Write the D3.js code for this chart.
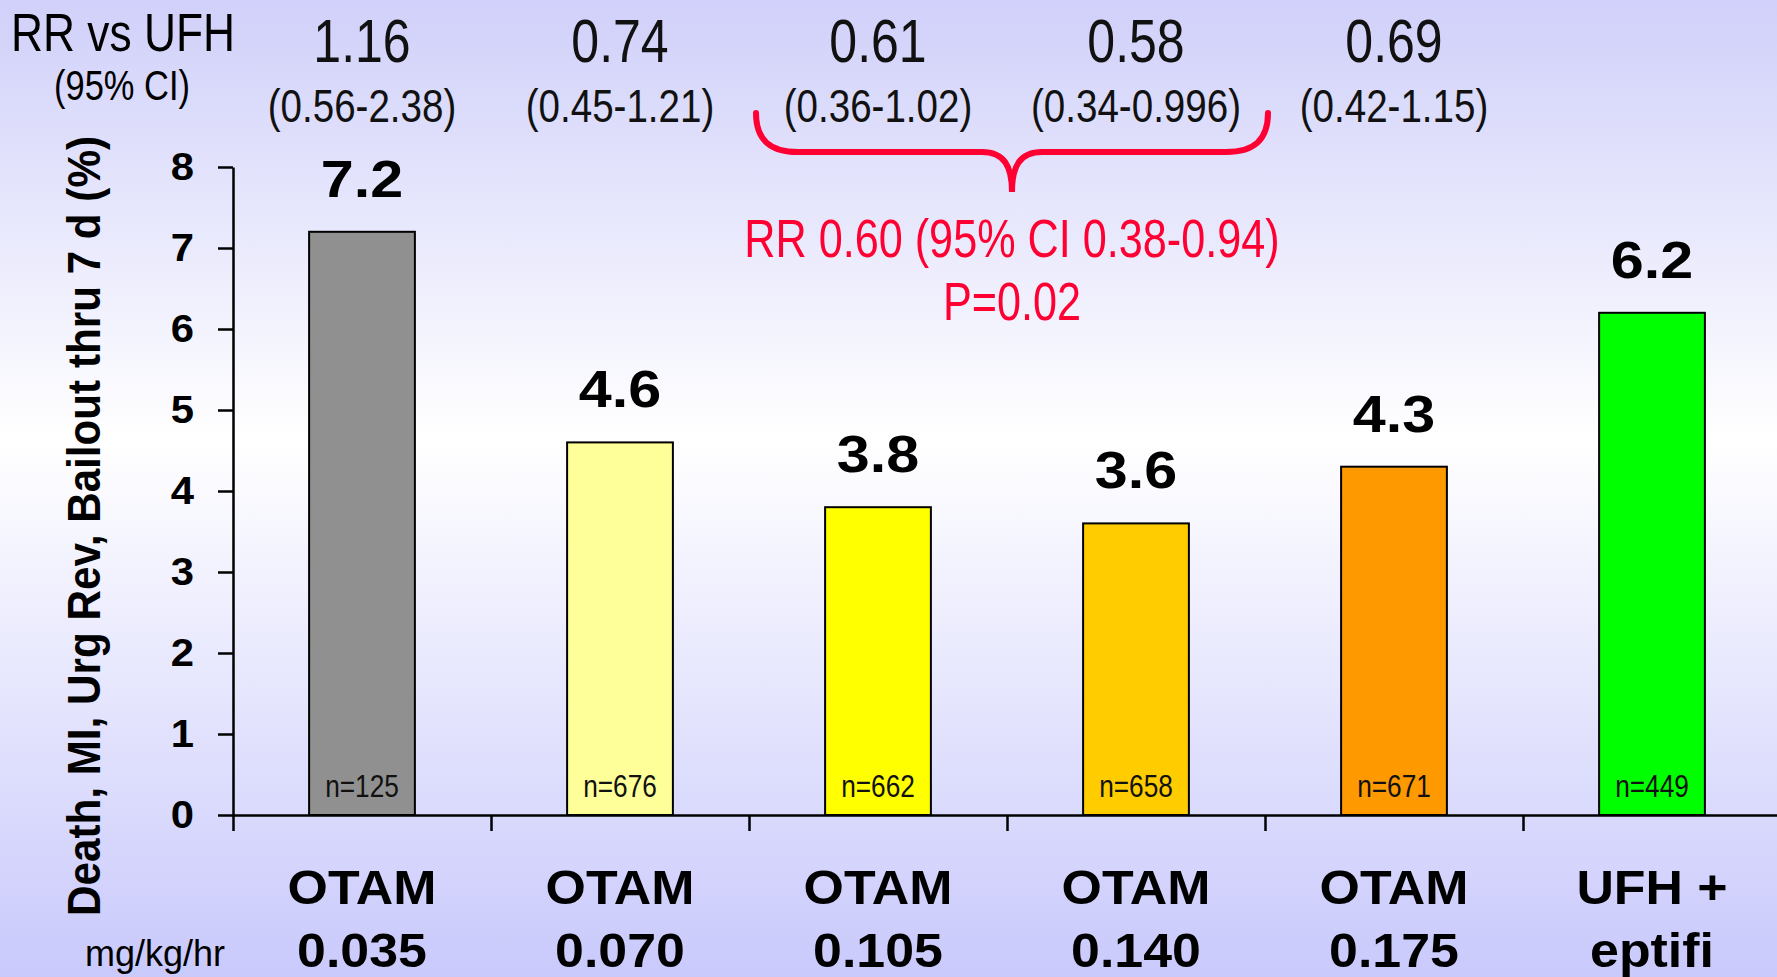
<!DOCTYPE html>
<html>
<head>
<meta charset="utf-8">
<script src="https://cdn.jsdelivr.net/npm/d3@7"></script>
<style>
html, body { margin: 0; padding: 0; overflow: hidden; background: #fff; }
svg { display: block; }
</style>
</head>
<body>
<div id="chart"></div>
<script>
// data
const groups = ["OTAM 0.035", "OTAM 0.070", "OTAM 0.105", "OTAM 0.140", "OTAM 0.175", "UFH + eptifi"];
const groupTop = ["OTAM", "OTAM", "OTAM", "OTAM", "OTAM", "UFH +"];
const groupBottom = ["0.035", "0.070", "0.105", "0.140", "0.175", "eptifi"];
const events = [7.2, 4.6, 3.8, 3.6, 4.3, 6.2];
const nLabels = ["n=125", "n=676", "n=662", "n=658", "n=671", "n=449"];
const rrValues = ["1.16", "0.74", "0.61", "0.58", "0.69"];
const rrCI = ["(0.56-2.38)", "(0.45-1.21)", "(0.36-1.02)", "(0.34-0.996)", "(0.42-1.15)"];
const yTicks = [0, 1, 2, 3, 4, 5, 6, 7, 8];
const pooledGroups = [2, 3];
const pooledText = ["RR 0.60 (95% CI 0.38-0.94)", "P=0.02"];

const barColors = ["#909090", "#ffff99", "#ffff00", "#ffcc00", "#ff9900", "#00ff00"];
const red = "#ff0033";
const narrow = "'Liberation Sans Narrow', 'Arial Narrow', 'Liberation Sans', Arial, sans-serif";
const bold = "'Liberation Sans', Arial, sans-serif";

let w = 1777;
let h = 977;
let left = 233;
let step = 258;

let svg = d3.select('#chart')
    .append('svg')
    .attr('width', w)
    .attr('height', h);

// background gradient
let grad = svg.append('defs').append('linearGradient')
    .attr('id', 'bg')
    .attr('x1', 0).attr('y1', 0).attr('x2', 0).attr('y2', 1);
grad.append('stop').attr('offset', '0%').attr('stop-color', '#d0d0fa');
grad.append('stop').attr('offset', '45%').attr('stop-color', '#ffffff');
grad.append('stop').attr('offset', '100%').attr('stop-color', '#c9c9fc');
svg.append('rect').attr('width', w).attr('height', h).attr('fill', 'url(#bg)');

let x = d3.scaleBand().domain(groups).range([left, left + step * groups.length]).padding(0);
let xEdge = d3.scaleLinear().domain([0, groups.length]).range([left, left + step * groups.length]);
let y = d3.scaleLinear().domain([0, 8]).range([815, 167]);
let barW = x.bandwidth() * 0.41;
let cx = (d) => x(d) + x.bandwidth() / 2;

// squeeze or widen text to the slide's proportions
function fit(sel, k) {
    sel.each(function () {
        let l = this.getComputedTextLength();
        d3.select(this).attr('textLength', l * k).attr('lengthAdjust', 'spacingAndGlyphs');
    });
}
const squeeze = 0.82;

// bars
svg.selectAll('rect.bar')
    .data(events)
    .enter()
    .append('rect')
    .attr('class', 'bar')
    .attr('x', (d, i) => cx(groups[i]) - barW / 2)
    .attr('y', (d) => y(d))
    .attr('width', barW)
    .attr('height', (d) => y(0) - y(d))
    .attr('fill', (d, i) => barColors[i])
    .attr('stroke', '#000')
    .attr('stroke-width', 2);

// n= labels inside bars
svg.selectAll('text.n')
    .data(nLabels)
    .enter()
    .append('text')
    .attr('class', 'n')
    .text((d) => d)
    .attr('x', (d, i) => cx(groups[i]))
    .attr('y', 797)
    .attr('text-anchor', 'middle')
    .style('font-family', narrow)
    .style('font-size', '32px')
    .attr('fill', '#111')
    .call(fit, squeeze);

// value labels
svg.selectAll('text.val')
    .data(events)
    .enter()
    .append('text')
    .attr('class', 'val')
    .text((d) => d.toFixed(1))
    .attr('x', (d, i) => cx(groups[i]))
    .attr('y', (d) => y(d) - 35)
    .attr('text-anchor', 'middle')
    .style('font-family', bold)
    .style('font-weight', 'bold')
    .style('font-size', '52px')
    .call(fit, 1.14);

// y axis
let yAxis = svg.append('g')
    .attr('transform', `translate(${left},0)`)
    .call(d3.axisLeft(y).tickValues(yTicks).tickSize(15).tickPadding(24).tickSizeOuter(0));
yAxis.selectAll('path, line').attr('stroke', '#000').attr('stroke-width', 2.5);
yAxis.selectAll('text')
    .style('font-family', bold)
    .style('font-weight', 'bold')
    .style('font-size', '38px')
    .attr('fill', '#000')
    .call(fit, 1.1);

// x axis, ticks sit between the groups
let xAxis = svg.append('g')
    .attr('transform', `translate(0,${y(0)})`)
    .call(d3.axisBottom(xEdge).tickValues(d3.range(0, groups.length + 1)).tickSize(16).tickSizeOuter(0).tickFormat(''));
xAxis.selectAll('path, line').attr('stroke', '#000').attr('stroke-width', 2.5);

// category labels
[groupTop, groupBottom].forEach((lines, k) => {
    svg.selectAll('text.cat' + k)
        .data(lines)
        .enter()
        .append('text')
        .attr('class', 'cat' + k)
        .text((d) => d)
        .attr('x', (d, i) => cx(groups[i]))
        .attr('y', k == 0 ? 904 : 967)
        .attr('text-anchor', 'middle')
        .style('font-family', bold)
        .style('font-weight', 'bold')
        .style('font-size', '48px')
        .call(fit, 1.08);
});

svg.append('text')
    .text('mg/kg/hr')
    .attr('x', 155)
    .attr('y', 966)
    .attr('text-anchor', 'middle')
    .style('font-family', bold)
    .style('font-size', '36px');

// y title
svg.append('text')
    .text('Death, MI, Urg Rev, Bailout thru 7 d (%)')
    .attr('transform', 'translate(100,526) rotate(-90)')
    .attr('text-anchor', 'middle')
    .attr('textLength', 780)
    .attr('lengthAdjust', 'spacingAndGlyphs')
    .style('font-family', narrow)
    .style('font-weight', 'bold')
    .style('font-size', '46px');

// RR row on top
svg.append('text')
    .text('RR vs UFH')
    .attr('x', 123).attr('y', 51)
    .attr('text-anchor', 'middle')
    .style('font-family', narrow)
    .style('font-size', '54px')
    .call(fit, squeeze);
svg.append('text')
    .text('(95% CI)')
    .attr('x', 122).attr('y', 100)
    .attr('text-anchor', 'middle')
    .style('font-family', narrow)
    .style('font-size', '42px')
    .call(fit, squeeze);

svg.selectAll('text.rr')
    .data(rrValues)
    .enter()
    .append('text')
    .attr('class', 'rr')
    .text((d) => d)
    .attr('x', (d, i) => cx(groups[i]))
    .attr('y', 62)
    .attr('text-anchor', 'middle')
    .style('font-family', narrow)
    .style('font-size', '61px')
    .attr('fill', '#111')
    .call(fit, squeeze);

svg.selectAll('text.ci')
    .data(rrCI)
    .enter()
    .append('text')
    .attr('class', 'ci')
    .text((d) => d)
    .attr('x', (d, i) => cx(groups[i]))
    .attr('y', 122)
    .attr('text-anchor', 'middle')
    .style('font-family', narrow)
    .style('font-size', '47px')
    .attr('fill', '#111')
    .call(fit, squeeze);

// red brace over the pooled groups
let bL = x(groups[pooledGroups[0]]) + 7;
let bR = x(groups[pooledGroups[1]]) + x.bandwidth() + 3;
let bM = (bL + bR) / 2;
let bTop = 113, bMid = 152, bTip = 192;
let brace = d3.path();
brace.moveTo(bL, bTop);
brace.bezierCurveTo(bL, bMid - 12, bL + 14, bMid, bL + 42, bMid);
brace.lineTo(bM - 30, bMid);
brace.bezierCurveTo(bM - 8, bMid, bM, bMid + 14, bM, bTip);
brace.bezierCurveTo(bM, bMid + 14, bM + 8, bMid, bM + 30, bMid);
brace.lineTo(bR - 42, bMid);
brace.bezierCurveTo(bR - 14, bMid, bR, bMid - 12, bR, bTop);
svg.append('path')
    .attr('d', brace.toString())
    .attr('fill', 'none')
    .attr('stroke', red)
    .attr('stroke-width', 6)
    .attr('stroke-linecap', 'round');

svg.selectAll('text.pooled')
    .data(pooledText)
    .enter()
    .append('text')
    .attr('class', 'pooled')
    .text((d) => d)
    .attr('x', bM)
    .attr('y', (d, i) => i == 0 ? 257 : 320)
    .attr('text-anchor', 'middle')
    .style('font-family', narrow)
    .style('font-size', '54px')
    .attr('fill', red)
    .call(fit, 0.8);
</script>
</body>
</html>
